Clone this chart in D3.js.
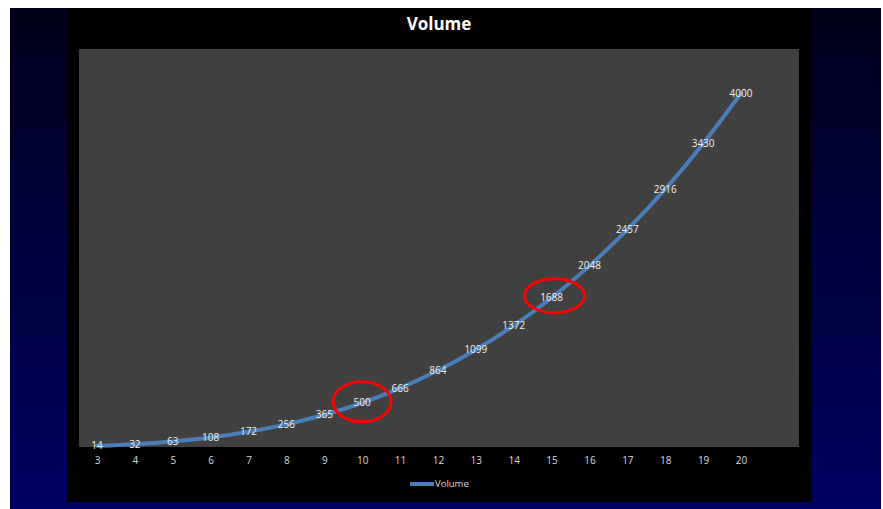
<!DOCTYPE html>
<html>
<head>
<meta charset="utf-8">
<script src="https://cdn.jsdelivr.net/npm/d3@7"></script>
<style>
  html, body { margin: 0; padding: 0; background: #fff; }
  svg { display: block; }
</style>
</head>
<body>
<svg id="chart" width="883" height="509"></svg>
<script>
// Edge length (3..20) and the volume of each cube
const categories = [3, 4, 5, 6, 7, 8, 9, 10, 11, 12, 13, 14, 15, 16, 17, 18, 19, 20];
const volumes = [14, 32, 63, 108, 172, 256, 365, 500, 666, 864, 1099, 1372, 1688, 2048, 2457, 2916, 3430, 4000];
// Points highlighted with a red ring
const highlighted = [10, 15];
const seriesName = "Volume";
const yMax = 4500;

const svg = d3.select("#chart");
const font = "'Open Sans', 'Liberation Sans', sans-serif";

// Slide background: dark navy gradient
const defs = svg.append("defs");
const grad = defs.append("linearGradient").attr("id", "bg").attr("x1", 0).attr("y1", 0).attr("x2", 0).attr("y2", 1);
grad.append("stop").attr("offset", "0%").attr("stop-color", "#00001a");
grad.append("stop").attr("offset", "100%").attr("stop-color", "#000062");
svg.append("rect").attr("x", 10).attr("y", 8).attr("width", 871).attr("height", 501).attr("fill", "url(#bg)");

// Chart area and plot area
svg.append("rect").attr("x", 67).attr("y", 8).attr("width", 744).attr("height", 494).attr("fill", "#000");
const plot = { left: 79, top: 49, right: 799, bottom: 447 };
svg.append("rect").attr("x", plot.left).attr("y", plot.top)
  .attr("width", plot.right - plot.left).attr("height", plot.bottom - plot.top).attr("fill", "#404040");

const x = d3.scalePoint().domain(categories).range([97, 741]);
const y = d3.scaleLinear().domain([0, yMax]).range([plot.bottom, plot.top]);

// Title
svg.append("text").attr("x", 439).attr("y", 30).attr("text-anchor", "middle")
  .attr("font-family", font).attr("font-weight", "bold").attr("font-size", 17).attr("fill", "#fff")
  .text(seriesName);

// Category axis labels
const xAxis = d3.axisBottom(x).tickSize(0).tickPadding(0);
const gx = svg.append("g").attr("transform", `translate(0,${plot.bottom + 10})`).call(xAxis);
gx.select(".domain").remove();
gx.selectAll("text").attr("font-family", font).attr("font-size", 10).attr("fill", "#d9d9d9").attr("dy", "0.71em");

const data = categories.map((c, i) => ({ c, v: volumes[i] }));

// Smoothed volume line
const line = d3.line().x(d => x(d.c)).y(d => y(d.v)).curve(d3.curveCatmullRom.alpha(0.5));
svg.append("path").datum(data).attr("d", line)
  .attr("fill", "none").attr("stroke", "#4a7ebb").attr("stroke-width", 4).attr("stroke-linecap", "round");

// Value labels centered on each point
svg.append("g").selectAll("text").data(data).join("text")
  .attr("x", d => x(d.c)).attr("y", d => y(d.v)).attr("dy", "0.35em").attr("text-anchor", "middle")
  .attr("font-family", font).attr("font-size", 10).attr("fill", "#f2f2f2")
  .text(d => d.v);

// Hand-drawn red rings around the highlighted points
const ringShape = { 10: { dx: 0, dy: -1, rx: 29, ry: 20 }, 15: { dx: 3, dy: -2, rx: 30, ry: 17 } };
svg.append("g").selectAll("ellipse").data(data.filter(d => highlighted.includes(d.c))).join("ellipse")
  .attr("cx", d => x(d.c) + ringShape[d.c].dx).attr("cy", d => y(d.v) + ringShape[d.c].dy)
  .attr("rx", d => ringShape[d.c].rx).attr("ry", d => ringShape[d.c].ry)
  .attr("fill", "none").attr("stroke", "#ff0000").attr("stroke-width", 3);

// Legend
const lg = svg.append("g").attr("transform", "translate(410,484)");
lg.append("line").attr("x1", 0).attr("x2", 24).attr("y1", 0).attr("y2", 0)
  .attr("stroke", "#4a7ebb").attr("stroke-width", 4);
lg.append("text").attr("x", 25).attr("y", 0).attr("dy", "0.35em")
  .attr("font-family", font).attr("font-size", 9.5).attr("fill", "#d9d9d9").text(seriesName);
</script>
</body>
</html>
